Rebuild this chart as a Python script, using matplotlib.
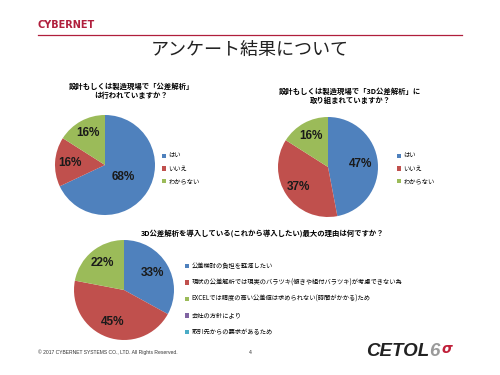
import numpy as np
import matplotlib
matplotlib.use("Agg")
from matplotlib import pyplot as plt

plt.rcParams["font.family"] = ["Noto Sans CJK JP", "DejaVu Sans"]

# survey answers (percent)
q1_title = "設計もしくは製造現場で「公差解析」\nは行われていますか？"
q1_labels = ["はい", "いいえ", "わからない"]
q1_values = [68, 16, 16]

q2_title = "設計もしくは製造現場で「3D公差解析」に\n取り組まれていますか？"
q2_labels = ["はい", "いいえ", "わからない"]
q2_values = [47, 37, 16]

q3_title = "3D公差解析を導入している(これから導入したい)最大の理由は何ですか？"
q3_labels = ["公差検討の負担を軽減したい",
             "現状の公差解析では現実のバラツキ(傾きや組付バラツキ)が考慮できない為",
             "EXCELでは精度の高い公差値は求められない(時間がかかる)ため",
             "会社の方針により",
             "取引先からの要求があるため"]
q3_values = [33, 45, 22, 0, 0]

colors = ["#4F81BD", "#C0504D", "#9BBB59", "#8064A2", "#4BACC6"]
W, H = 500, 375

fig = plt.figure(figsize=(5, 3.75), dpi=100)


def fx(x):
    return x / W


def fy(y):
    return 1 - y / H


def pie_block(cx, cy, values, labels, dists, leg_x, leg_y, spacing):
    r = 50
    ax = fig.add_axes([fx(cx - r), fy(cy + r), 2 * r / W, 2 * r / H])
    wedges, _ = ax.pie(values, colors=colors[:len(values)], startangle=90,
                       counterclock=False, radius=1,
                       wedgeprops=dict(linewidth=0))
    ax.set_xlim(-1, 1)
    ax.set_ylim(-1, 1)
    for w, v, d in zip(wedges, values, dists):
        if v == 0:
            continue
        ang = np.deg2rad((w.theta1 + w.theta2) / 2)
        ax.text(d * np.cos(ang), d * np.sin(ang), f"{v}%", ha="center",
                va="center", fontsize=8.5, fontweight="bold",
                family="Liberation Sans", color="#1a1a1a")
    ax.legend(wedges, labels, loc="upper left",
              bbox_to_anchor=(fx(leg_x), fy(leg_y)),
              bbox_transform=fig.transFigure, frameon=False, fontsize=4.5,
              handlelength=0.7, handleheight=0.7, handletextpad=0.35,
              labelspacing=spacing, borderaxespad=0, borderpad=0)
    return ax


# header
fig.text(fx(38), fy(25), "CYBERNET", fontsize=7, fontweight="bold",
         color="#B01E3C", family="DejaVu Sans", va="center")
fig.add_artist(plt.Line2D([fx(38), fx(462)], [fy(35), fy(35)],
                          color="#B01E3C", lw=0.9))
fig.text(0.5, fy(50), "アンケート結果について", fontsize=13, ha="center",
         va="center", color="#222222")

# chart 1
fig.text(fx(131), fy(91), q1_title, fontsize=5.3, fontweight="bold",
         ha="center", va="center", linespacing=1.3)
pie_block(105, 165, q1_values, q1_labels, [0.43, 0.7, 0.72], 162, 152, 0.72)

# chart 2
fig.text(fx(350), fy(96), q2_title, fontsize=5.3, fontweight="bold",
         ha="center", va="center", linespacing=1.3)
pie_block(328, 167, q2_values, q2_labels, [0.66, 0.72, 0.7], 397, 152, 0.72)

# chart 3
fig.text(fx(263), fy(233), q3_title, fontsize=5.3, fontweight="bold",
         ha="center", va="center")
pie_block(124, 290, q3_values, q3_labels, [0.67, 0.68, 0.69, 0.7, 0.7],
          185, 262, 1.36)

# footer
fig.text(fx(38), fy(352), "© 2017 CYBERNET SYSTEMS CO., LTD. All Rights Reserved.",
         fontsize=3.6, va="center", family="Liberation Sans", color="#333333")
fig.text(fx(249), fy(352), "4", fontsize=3.8, va="center",
         family="Liberation Sans", color="#333333")
fig.text(fx(366), fy(351), "CETOL", fontsize=13.5, fontweight="bold",
         style="italic", family="Liberation Sans", va="center", color="#222222")
fig.text(fx(429), fy(351), "6", fontsize=13.5, fontweight="bold",
         style="italic", family="Liberation Sans", va="center", color="#9a9a9a")
fig.text(fx(441), fy(349), "σ", fontsize=10, fontweight="bold",
         style="italic", family="DejaVu Sans", va="center", color="#C0203A")

fig.savefig("out.png", dpi=100)
